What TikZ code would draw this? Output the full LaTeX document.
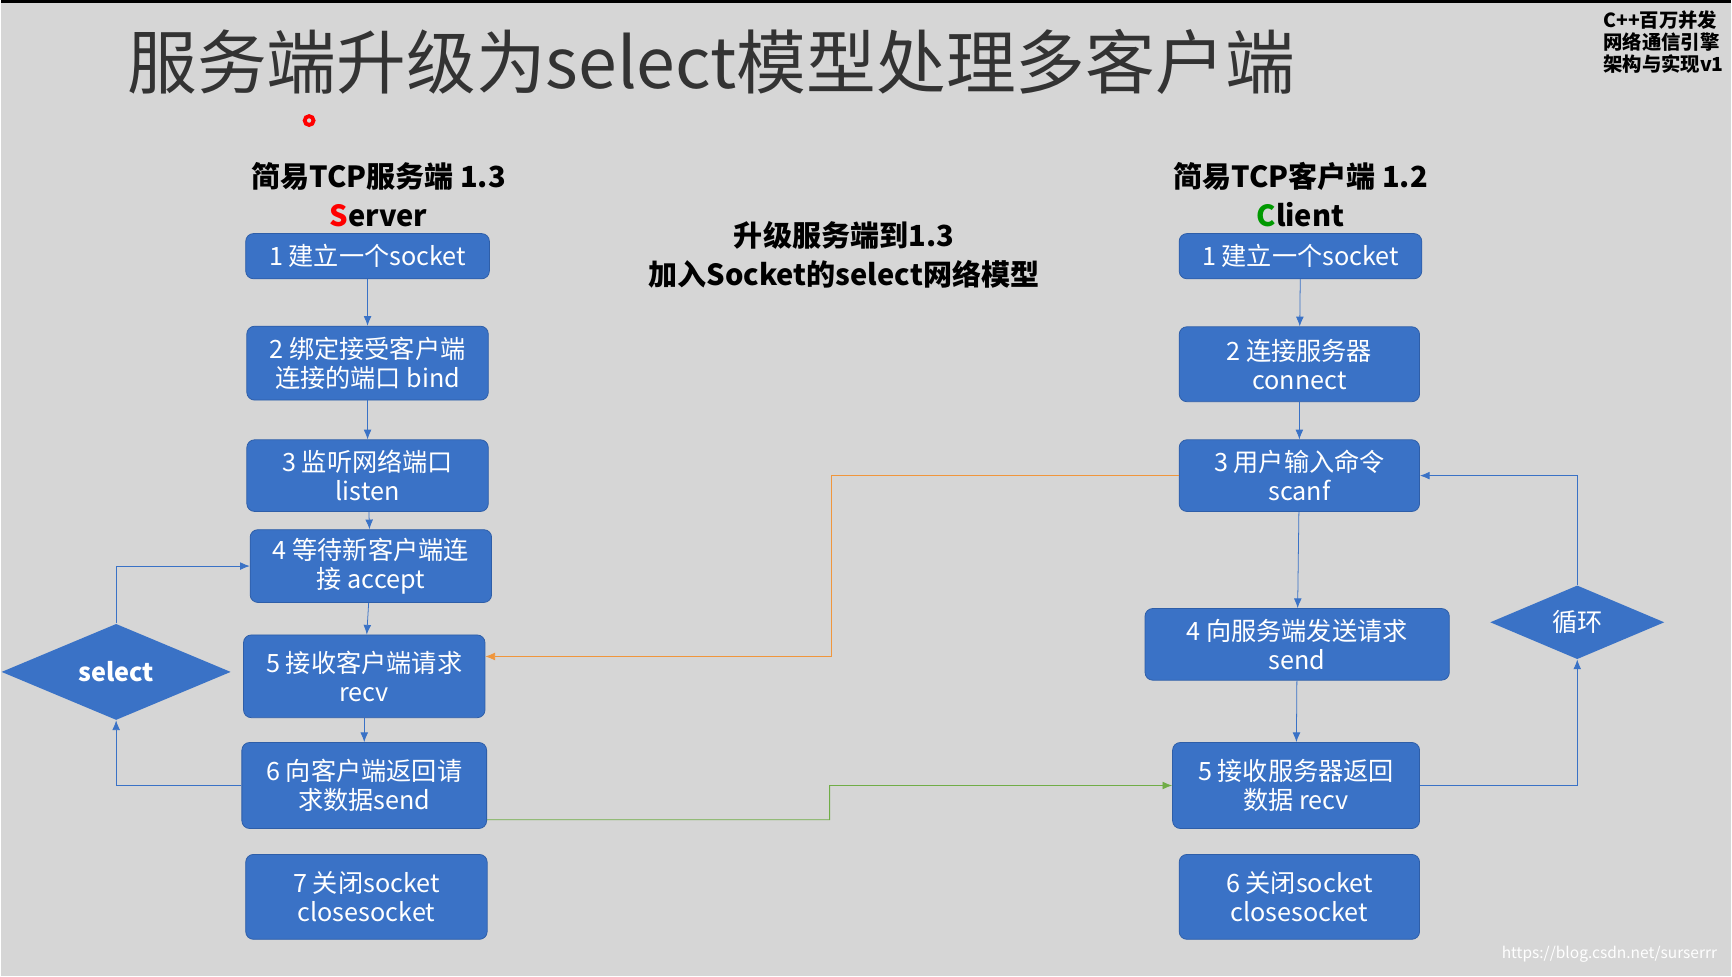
\documentclass[tikz,border=0pt]{standalone}
\usepackage{fontspec}
\setmainfont{Noto Sans CJK SC}
\usetikzlibrary{shapes.geometric,arrows.meta}
\definecolor{boxblue}{HTML}{3A72C6}
\definecolor{boxedge}{HTML}{2E5EA8}
\definecolor{bggray}{HTML}{D6D6D6}
\definecolor{linkorange}{HTML}{F0963C}
\definecolor{linkgreen}{HTML}{70AD47}
\begin{document}
\begin{tikzpicture}[x=0.02cm,y=-0.02cm,
    box/.style={
        rectangle,
        rounded corners=4pt,
        fill=boxblue, draw=boxedge, thin,
        text=white,
        font=\fontsize{13}{15}\selectfont,
        align=center,
        inner sep=0pt},
    decide/.style={
        diamond,
        fill=boxblue,
        text=white,
        font=\bfseries\fontsize{13}{15}\selectfont,
        inner sep=0pt},
    arrow/.style={
        thin,
        draw=boxblue,
        -{Latex[length=5pt,width=4pt]}},
    heading/.style={
        font=\bfseries\fontsize{15}{20}\selectfont,
        align=center}
    ]

    \fill[bggray] (0,0) rectangle (1568,884);
    \draw[black, line width=1.5pt] (0,0) -- (1568,0);

    % title and corner notes
    \node (title) [anchor=west, font=\fontsize{36}{42}\selectfont, text=black!80] at (108,55) {服务端升级为select模型处理多客户端};
    \node (course) [anchor=north east, align=left, font=\bfseries\fontsize{10}{11.5}\selectfont] at (1568,2) {C++百万并发\\网络通信引擎\\架构与实现v1};
    \node (mark) [anchor=south east, text=white, font=\fontsize{8}{9}\selectfont] at (1562,878) {https://blog.csdn.net/surserrr};
    \draw[red, line width=2pt] (279,108) circle (4);

    % headings
    \node (srvhead) [heading] at (342,175) {简易TCP服务端 1.3\\{\color{red}S}erver};
    \node (clihead) [heading] at (1178,175) {简易TCP客户端 1.2\\{\color{green!60!black}C}lient};
    \node (upgrade) [heading] at (764,230) {升级服务端到1.3\\加入Socket的select网络模型};

    % server side
    \node (s1) [box, minimum width=4.42cm, minimum height=0.82cm] at (332,231) {1 建立一个socket};
    \node (s2) [box, minimum width=4.38cm, minimum height=1.34cm] at (332,328) {2 绑定接受客户端\\连接的端口 bind};
    \node (s3) [box, minimum width=4.38cm, minimum height=1.30cm] at (332,430) {3 监听网络端口\\listen};
    \node (s4) [box, minimum width=4.38cm, minimum height=1.32cm] at (335,512) {4 等待新客户端连\\接 accept};
    \node (s5) [box, minimum width=4.38cm, minimum height=1.50cm] at (329,612) {5 接收客户端请求\\recv};
    \node (s6) [box, minimum width=4.44cm, minimum height=1.56cm] at (329,711) {6 向客户端返回请\\求数据send};
    \node (s7) [box, minimum width=4.38cm, minimum height=1.54cm] at (331,812) {7 关闭socket\\closesocket};
    \node (select) [decide, minimum width=4.16cm, minimum height=1.64cm] at (104,608) {select};

    % client side
    \node (c1) [box, minimum width=4.40cm, minimum height=0.82cm] at (1178,231) {1 建立一个socket};
    \node (c2) [box, minimum width=4.36cm, minimum height=1.36cm] at (1177,329) {2 连接服务器\\connect};
    \node (c3) [box, minimum width=4.36cm, minimum height=1.30cm] at (1177,430) {3 用户输入命令\\scanf};
    \node (c4) [box, minimum width=5.52cm, minimum height=1.30cm] at (1175,583) {4 向服务端发送请求\\send};
    \node (c5) [box, minimum width=4.48cm, minimum height=1.56cm] at (1174,711) {5 接收服务器返回\\数据 recv};
    \node (c6) [box, minimum width=4.36cm, minimum height=1.54cm] at (1177,812) {6 关闭socket\\closesocket};
    \node (loop) [decide, font=\fontsize{13}{15}\selectfont, minimum width=3.16cm, minimum height=1.32cm] at (1429,563) {循环};

    \draw [arrow] (s1) -- (s2);
    \draw [arrow] (s2) -- (s3);
    \draw [arrow] (s3) -- (s4);
    \draw [arrow] (s4) -- (s5);
    \draw [arrow] (s5) -- (s6);
    \draw [arrow] (s6.west) -| (select.south);
    \draw [arrow] (select.north) |- (s4.west);

    \draw [arrow] (c1) -- (c2);
    \draw [arrow] (c2) -- (c3);
    \draw [arrow] (c3) -- (c4);
    \draw [arrow] (c4) -- (c5);
    \draw [arrow] (c5.east) -| (loop.south);
    \draw [arrow] (loop.north) |- (c3.east);

    \draw [arrow, draw=linkorange] (c3.west) -- (753,430) |- ([yshift=0.36cm]s5.east);
    \draw [arrow, draw=linkgreen] ([yshift=-0.62cm]s6.east) -- (751,742) |- (c5.west);

\end{tikzpicture}
\end{document}
